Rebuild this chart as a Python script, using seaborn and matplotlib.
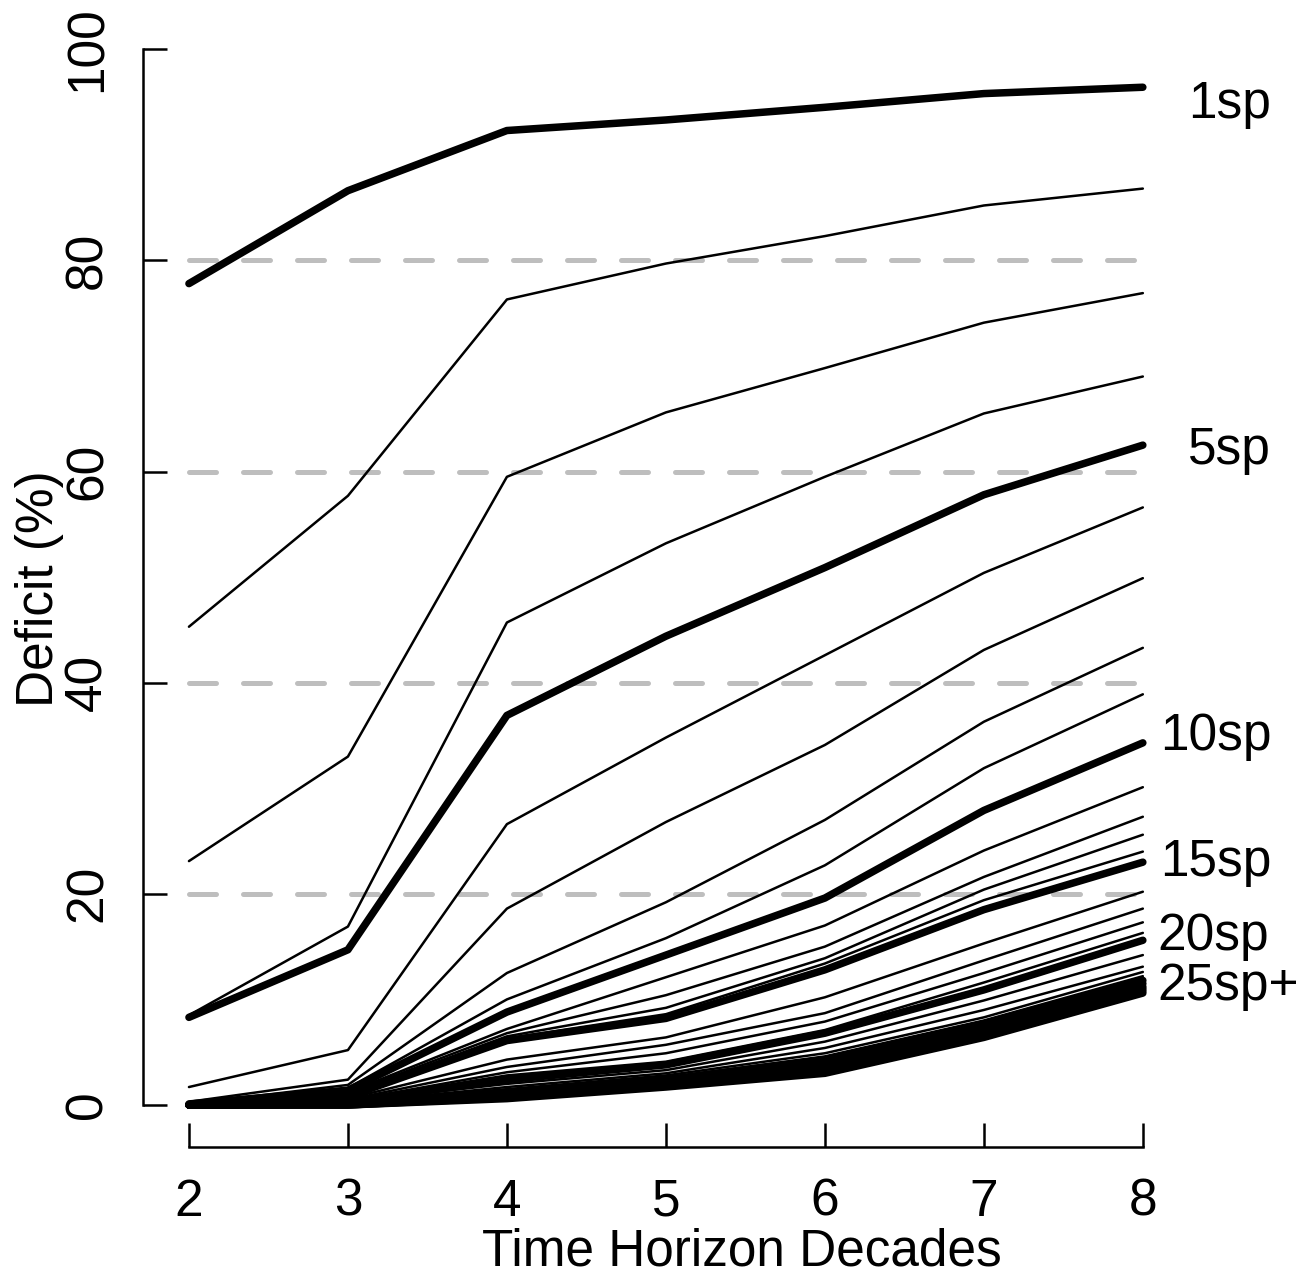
import pandas as pd
import matplotlib
matplotlib.use("Agg")
import matplotlib.pyplot as plt
import seaborn as sns

# deficit (%) per number of species (1..30) at each time horizon (decades)
decades = [2, 3, 4, 5, 6, 7, 8]
species = list(range(1, 31))
dec2 = [77.8, 45.3, 23.1, 8.5, 8.3, 1.7, 0.3, 0.1, 0.1, 0.1,
        0.0, 0.0, 0.0, 0.0, 0.0, 0.0, 0.0, 0.0, 0.0, 0.0,
        0.0, 0.0, 0.0, 0.0, 0.0, 0.0, 0.0, 0.0, 0.0, 0.0]
dec3 = [86.6, 57.7, 33.0, 16.9, 14.7, 5.2, 2.4, 1.9, 1.6, 1.4,
        1.2, 1.1, 1.0, 0.9, 0.8, 0.6, 0.5, 0.4, 0.4, 0.3,
        0.3, 0.2, 0.2, 0.1, 0.1, 0.1, 0.1, 0.0, 0.0, 0.0]
dec4 = [92.3, 76.3, 59.5, 45.7, 36.9, 26.6, 18.6, 12.5, 10.0, 8.8,
        7.2, 6.8, 6.5, 6.3, 6.1, 4.3, 3.6, 3.1, 2.8, 2.4,
        2.0, 1.7, 1.5, 1.3, 1.2, 1.0, 0.9, 0.8, 0.7, 0.6]
dec5 = [93.3, 79.7, 65.6, 53.2, 44.4, 34.8, 26.8, 19.2, 15.8, 14.2,
        12.1, 10.4, 9.2, 8.6, 8.2, 6.4, 5.7, 4.9, 4.1, 3.8,
        3.3, 3.0, 2.8, 2.6, 2.4, 2.2, 2.0, 1.9, 1.8, 1.7]
dec6 = [94.5, 82.3, 69.8, 59.5, 50.9, 42.6, 34.1, 27.0, 22.7, 19.6,
        17.0, 15.0, 13.9, 13.4, 12.8, 10.2, 8.7, 7.9, 7.1, 6.8,
        6.0, 5.4, 4.9, 4.6, 4.3, 4.0, 3.7, 3.5, 3.3, 3.0]
dec7 = [95.8, 85.2, 74.1, 65.5, 57.8, 50.4, 43.1, 36.3, 31.9, 27.9,
        24.1, 21.6, 20.4, 19.4, 18.5, 15.3, 13.7, 12.5, 11.6, 10.9,
        9.9, 9.0, 8.3, 8.0, 7.7, 7.4, 7.1, 6.8, 6.6, 6.4]
dec8 = [96.4, 86.8, 76.9, 69.0, 62.5, 56.6, 49.9, 43.3, 38.9, 34.3,
        30.1, 27.3, 25.6, 24.0, 23.0, 20.2, 18.6, 17.3, 16.3, 15.6,
        14.2, 13.1, 12.6, 12.2, 11.8, 11.5, 11.2, 11.0, 10.8, 10.6]
thick_species = [1, 5, 10, 15, 20, 25, 26, 27, 28, 29, 30]
ref_levels = [20, 40, 60, 80]
curve_labels = ['1sp', '5sp', '10sp', '15sp', '20sp', '25sp+']

cols = [dec2, dec3, dec4, dec5, dec6, dec7, dec8]
rows = []
for d, col in zip(decades, cols):
    for sp, v in zip(species, col):
        rows.append({'Decades': d, 'Deficit': v, 'Species': sp})
df = pd.DataFrame(rows)
df['Thick'] = df['Species'].isin(thick_species)

sns.set_theme(style='white')
plt.rcParams['font.family'] = ['Liberation Sans', 'DejaVu Sans']
plt.rcParams['text.color'] = 'black'
plt.rcParams['axes.labelcolor'] = 'black'

fig = plt.figure(figsize=(13.14, 12.77), dpi=100)
ax = fig.add_axes([143 / 1314, 130 / 1277, 1038 / 1314, 1140 / 1277])

for lvl in ref_levels:
    ax.plot([decades[0], decades[-1]], [lvl, lvl], color='#BEBEBE', lw=3.6,
            dashes=(5.4, 5.4), dash_capstyle='round', zorder=1)

line_kw = dict(x='Decades', y='Deficit', units='Species', estimator=None,
               color='black', ax=ax, legend=False, zorder=3,
               solid_capstyle='round', solid_joinstyle='round')
sns.lineplot(data=df[~df['Thick']], lw=1.8, **line_kw)
sns.lineplot(data=df[df['Thick']], lw=5.4, **line_kw)

label_x = [8.283, 8.283, 8.107, 8.107, 8.094, 8.094]
label_y = [94.8, 62.0, 34.9, 23.0, 16.0, 11.2]
for txt, lx, ly in zip(curve_labels, label_x, label_y):
    ax.text(lx, ly, txt, ha='left', va='center', fontsize=37, color='black')

ax.set_xlim(1.711, 8.24)
ax.set_ylim(-3.98, 104)
ax.set_xticks(decades)
ax.set_yticks([0, 20, 40, 60, 80, 100])
for s in ['top', 'right']:
    ax.spines[s].set_visible(False)
for s in ['left', 'bottom']:
    ax.spines[s].set_linewidth(1.8)
    ax.spines[s].set_color('black')
ax.spines['left'].set_bounds(0, 100)
ax.spines['bottom'].set_bounds(2, 8)
ax.tick_params(bottom=True, left=True, direction='in', length=17, width=1.8,
               labelsize=37, colors='black')
ax.tick_params(axis='y', labelrotation=90, pad=22)
ax.tick_params(axis='x', pad=22)
for lab in ax.get_yticklabels():
    lab.set_va('center')
ax.set_xlabel('Time Horizon Decades', fontsize=37)
ax.set_ylabel('Deficit (%)', fontsize=37)
ax.xaxis.set_label_coords(0.577, -0.071)
ax.yaxis.set_label_coords(-0.076, 0.49)
ax.grid(False)

fig.savefig('out.png', dpi=100, facecolor='white')
